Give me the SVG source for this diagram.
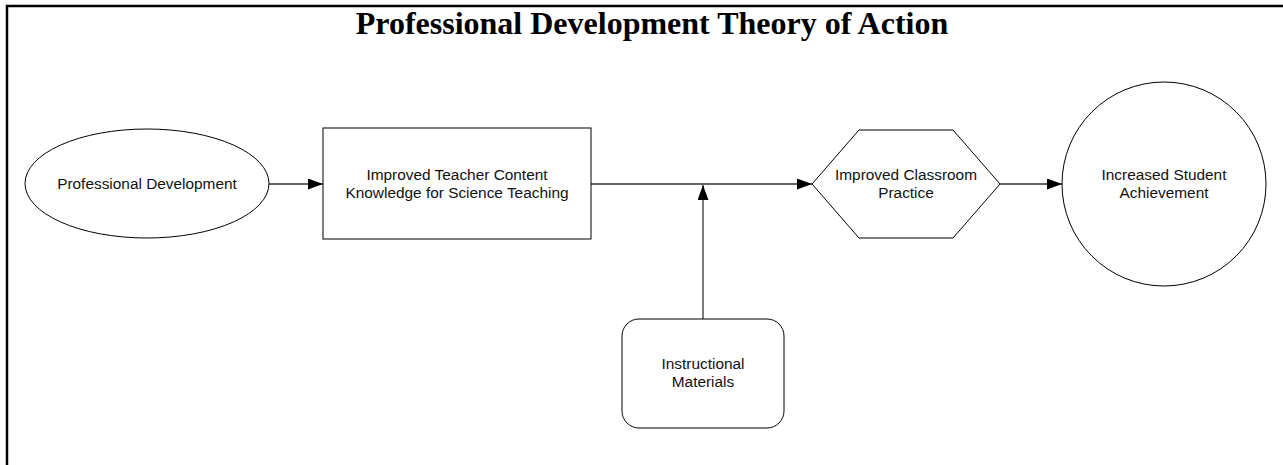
<svg xmlns="http://www.w3.org/2000/svg" width="1283" height="465" viewBox="0 0 1283 465">
<style>
.node{fill:#fff;stroke:#000;stroke-width:1}
.lbl{font-family:"Liberation Sans",Arial,sans-serif;font-size:15.4px;fill:#111;text-anchor:middle}
.title{font-family:"Liberation Serif","Times New Roman",serif;font-size:32px;font-weight:bold;fill:#000;text-anchor:middle}
.conn{stroke:#333;stroke-width:1.3;fill:none}
.frame{stroke:#000;stroke-width:2.5;fill:none}
</style>
<defs>
<marker id="arr" markerWidth="15" markerHeight="11" refX="15" refY="5.5" orient="auto" markerUnits="userSpaceOnUse">
<path d="M0,0 L15,5.5 L0,11 Z" fill="#000"/>
</marker>
</defs>
<rect width="1283" height="465" fill="#fff"/>
<g id="frame">
<path class="frame" d="M7,465 L7,6 L1283,6"/>
</g>
<text class="title" x="652" y="34">Professional Development Theory of Action</text>
<g id="connectors">
<line class="conn" x1="269" y1="184" x2="323" y2="184" marker-end="url(#arr)"/>
<line class="conn" x1="591" y1="184" x2="812" y2="184" marker-end="url(#arr)"/>
<line class="conn" x1="1000" y1="184" x2="1062" y2="184" marker-end="url(#arr)"/>
<line class="conn" x1="703" y1="319" x2="703" y2="185" marker-end="url(#arr)"/>
</g>
<g id="professional-development">
<ellipse class="node" cx="147" cy="183.5" rx="122" ry="54.5"/>
<text class="lbl" x="147" y="189">Professional Development</text>
</g>
<g id="teacher-knowledge">
<rect class="node" x="323" y="128" width="268" height="111"/>
<text class="lbl" x="457" y="180">Improved Teacher Content</text>
<text class="lbl" x="457" y="198">Knowledge for Science Teaching</text>
</g>
<g id="classroom-practice">
<polygon class="node" points="812,184 859,130 953,130 1000,184 953,238 859,238"/>
<text class="lbl" x="906" y="180">Improved Classroom</text>
<text class="lbl" x="906" y="198">Practice</text>
</g>
<g id="student-achievement">
<circle class="node" cx="1164" cy="184" r="102"/>
<text class="lbl" x="1164" y="180">Increased Student</text>
<text class="lbl" x="1164" y="198">Achievement</text>
</g>
<g id="instructional-materials">
<rect class="node" x="622" y="319" width="162" height="109" rx="17" ry="17"/>
<text class="lbl" x="703" y="369">Instructional</text>
<text class="lbl" x="703" y="387">Materials</text>
</g>
</svg>
